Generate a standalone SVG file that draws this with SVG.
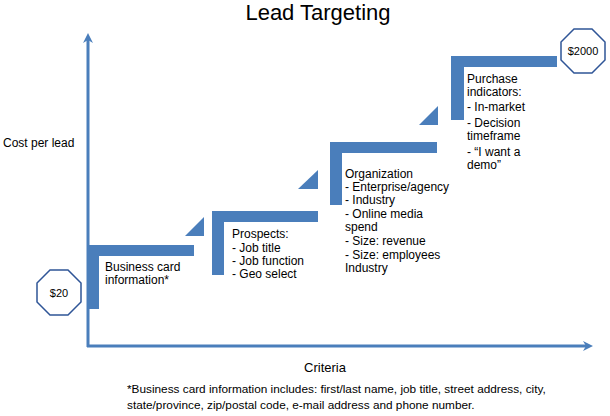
<svg xmlns="http://www.w3.org/2000/svg" width="610" height="416" viewBox="0 0 610 416">
<defs>
<style>
text{font-family:"Liberation Sans",Arial,sans-serif;fill:#000}
.t{font-size:12px}
.s{fill:#4a7ebb}
.oct{fill:#fff;stroke:#2f5597;stroke-width:1.5}
.ax{stroke:#4a7ebb;stroke-width:3;fill:none}
</style>
<marker id="ah" markerWidth="10" markerHeight="10" refX="5" refY="5" orient="auto" markerUnits="userSpaceOnUse" viewBox="0 0 10 10"><path d="M0,0 L10,5 L0,10 L3,5 Z" fill="#4a7ebb"/></marker>
</defs>
<rect width="610" height="416" fill="#fff"/>
<text x="318" y="20" font-size="22" text-anchor="middle">Lead Targeting</text>
<g id="connectors">
<line class="ax" x1="88" y1="347" x2="88" y2="38" marker-end="url(#ah)"/>
<line class="ax" x1="87" y1="346" x2="588" y2="346" marker-end="url(#ah)"/>
</g>
<text x="3" y="147" font-size="12">Cost per lead</text>
<text x="325" y="372" font-size="13" text-anchor="middle">Criteria</text>
<g id="step1">
<path class="s" d="M88,245 H194 V256 H99 V309 H88 Z"/>
<polygon class="s" points="185,236 204,217 204,236"/>
<text class="t" x="105" y="271">Business card</text>
<text class="t" x="105" y="284">information*</text>
</g>
<g id="step2">
<path class="s" d="M212,211 H318 V222 H224 V275 H212 Z"/>
<polygon class="s" points="298,189 318,170 318,189"/>
<text class="t" x="232" y="238">Prospects:</text>
<text class="t" x="232" y="252">- Job title</text>
<text class="t" x="232" y="265">- Job function</text>
<text class="t" x="232" y="278">- Geo select</text>
</g>
<g id="step3">
<path class="s" d="M330,142 H437 V153 H342 V205 H330 Z"/>
<polygon class="s" points="419,125 438,106 438,125"/>
<text class="t" x="345" y="178">Organization</text>
<text class="t" x="345" y="191">- Enterprise/agency</text>
<text class="t" x="345" y="204">- Industry</text>
<text class="t" x="345" y="218">- Online media</text>
<text class="t" x="345" y="231">spend</text>
<text class="t" x="345" y="245">- Size: revenue</text>
<text class="t" x="345" y="259">- Size: employees</text>
<text class="t" x="345" y="272">Industry</text>
</g>
<g id="step4">
<path class="s" d="M451,56 H557 V67 H464 V120 H451 Z"/>
<text class="t" x="467" y="83">Purchase</text>
<text class="t" x="467" y="96">indicators:</text>
<text class="t" x="467" y="111">- In-market</text>
<text class="t" x="467" y="127">- Decision</text>
<text class="t" x="467" y="140">timeframe</text>
<text class="t" x="467" y="156">- “I want a</text>
<text class="t" x="467" y="169">demo”</text>
</g>
<g id="price-high">
<polygon class="oct" points="574,29 592,29 605,42 605,60 592,73 574,73 561,60 561,42"/>
<text x="583" y="55" font-size="11" text-anchor="middle">$2000</text>
</g>
<g id="price-low">
<polygon class="oct" points="50,270 68,270 81,283 81,302 68,315 50,315 37,302 37,283"/>
<text x="59" y="297" font-size="11" text-anchor="middle">$20</text>
</g>
<text x="127" y="393" font-size="11.8">*Business card information includes: first/last name, job title, street address, city,</text>
<text x="127" y="409" font-size="11.8">state/province, zip/postal code, e-mail address and phone number.</text>
</svg>
